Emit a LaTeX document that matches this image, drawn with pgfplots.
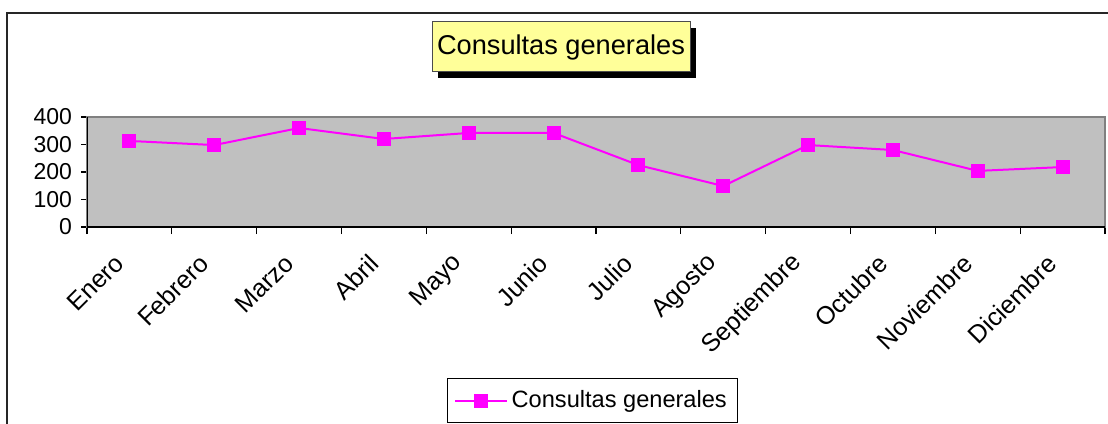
\documentclass[border=0pt]{standalone}
\usepackage{pgfplots}
\pgfplotsset{compat=1.18}
\usepackage{fontspec}
\setmainfont{Liberation Sans}
\definecolor{plotgray}{HTML}{C0C0C0}
\definecolor{framegray}{HTML}{808080}
\definecolor{mag}{HTML}{FF00FF}
\definecolor{titlebg}{HTML}{FFFF99}
\begin{document}
\begin{tikzpicture}[x=0.5pt,y=0.5pt]
\useasboundingbox (0,0) rectangle (1108,423);
\draw[line width=1pt, black!85] (7,-5) -- (7,410) -- (1115,410);
% title
\fill[black] (438,345) rectangle (696,395);
\draw[fill=titlebg, draw=black!70, line width=0.5pt] (432,351) rectangle (690,401);
\node[font=\fontsize{13.6}{15}\selectfont] at (561,376) {Consultas generales};
\begin{axis}[
  at={(43.5pt,98pt)}, anchor=south west,
  scale only axis, width=509pt, height=55pt,
  xmin=0.5, xmax=12.5, ymin=0, ymax=400,
  ytick={0,100,200,300,400},
  xtick={1,...,12},
  xticklabels={Enero,Febrero,Marzo,Abril,Mayo,Junio,Julio,Agosto,Septiembre,Octubre,Noviembre,Diciembre},
  minor xtick={0.5,1.5,...,12.5},
  major x tick style={draw=none},
  minor x tick style={black, line width=0.6pt},
  y tick style={black, line width=0.6pt},
  tick align=outside,
  major tick length=3pt, minor tick length=3.5pt,
  xtick pos=bottom, ytick pos=left,
  axis line style={framegray, line width=1pt},
  axis background/.style={fill=plotgray},
  /pgf/number format/assume math mode=true,
  tick label style={font=\fontsize{11.5}{13}\selectfont},
  yticklabel style={xshift=-1pt},
  xticklabel style={xshift=-2.6pt, yshift=-10.6pt, rotate=45, anchor=east, font=\fontsize{12.6}{14}\selectfont},
  legend style={at={(0.3536,-1.3727)}, anchor=north west, draw=black, line width=0.5pt,
    font=\fontsize{11.8}{13}\selectfont, inner xsep=3.5pt, inner ysep=4pt},
  legend cell align=left,
  legend image code/.code={\draw[mark repeat=2,mark phase=2] plot coordinates {(0cm,0cm)(0.45cm,0cm)(0.9cm,0cm)};},
]
\addplot[mag, line width=1pt, mark=square*, mark size=3pt, mark options={solid, fill=mag}]
  coordinates {(1,313)(2,298)(3,360)(4,320)(5,342)(6,342)(7,225)(8,149)(9,298)(10,280)(11,204)(12,218)};
\addlegendentry{Consultas generales}
\draw[black, line width=0.8pt] (rel axis cs:0,1) -- (rel axis cs:0,0) -- (rel axis cs:1,0);
\end{axis}
\end{tikzpicture}
\end{document}
